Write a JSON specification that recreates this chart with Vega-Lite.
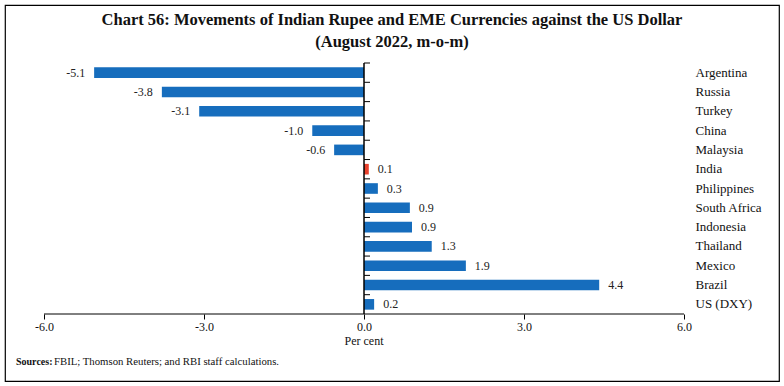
{
  "$schema": "https://vega.github.io/schema/vega-lite/v6.json",
  "width": 774,
  "height": 376,
  "padding": 5,
  "autosize": {"type": "none"},
  "background": "white",
  "config": {
    "view": {"stroke": "#000", "strokeWidth": 1.2},
    "font": "Liberation Serif",
    "locale": {"number": {"decimal": ".", "thousands": ",", "grouping": [3], "currency": ["", ""], "minus": "-"}}
  },
  "title": {
    "text": ["Chart 56: Movements of Indian Rupee and EME Currencies against the US Dollar", "(August 2022, m-o-m)"],
    "anchor": "middle",
    "font": "Liberation Serif",
    "fontSize": 16.5,
    "fontWeight": "bold",
    "color": "#111",
    "lineHeight": 22,
    "offset": -45
  },
  "data": {
    "values": [
      {"country": "Argentina", "val": -5.06},
      {"country": "Russia", "val": -3.79},
      {"country": "Turkey", "val": -3.09},
      {"country": "China", "val": -0.97},
      {"country": "Malaysia", "val": -0.56},
      {"country": "India", "val": 0.09},
      {"country": "Philippines", "val": 0.26},
      {"country": "South Africa", "val": 0.86},
      {"country": "Indonesia", "val": 0.9},
      {"country": "Thailand", "val": 1.27},
      {"country": "Mexico", "val": 1.91},
      {"country": "Brazil", "val": 4.41},
      {"country": "US (DXY)", "val": 0.19}
    ]
  },
  "layer": [
    {
      "mark": {"type": "bar", "height": {"band": 0.55}},
      "encoding": {
        "x": {
          "field": "val",
          "type": "quantitative",
          "scale": {"domain": [-6, 6], "range": [39, 679], "nice": false, "zero": false},
          "axis": {
            "values": [-6, -3, 0, 3, 6],
            "format": ".1f",
            "offset": -67,
            "domain": false,
            "ticks": true,
            "tickSize": 5,
            "tickColor": "#000",
            "grid": false,
            "labelFlush": false,
            "labelFont": "Liberation Serif",
            "labelFontSize": 12,
            "labelColor": "#111",
            "labelPadding": 2,
            "title": null
          }
        },
        "x2": {"datum": 0},
        "y": {
          "field": "country",
          "type": "nominal",
          "sort": null,
          "scale": {"range": [58, 309], "paddingInner": 0, "paddingOuter": 0},
          "axis": {
            "orient": "right",
            "offset": -84,
            "domain": false,
            "ticks": false,
            "tickSize": 0,
            "labelPadding": 0,
            "labelFont": "Liberation Serif",
            "labelFontSize": 13,
            "labelColor": "#111",
            "title": null,
            "grid": false
          }
        },
        "color": {
          "condition": {"test": "datum.country === 'India'", "value": "#e8412c"},
          "value": "#166dbd"
        }
      }
    },
    {
      "mark": {"type": "rect", "fill": null, "stroke": "#000", "strokeWidth": 1},
      "encoding": {
        "x": {"datum": 0},
        "x2": {"datum": 0},
        "y": {"field": "country", "type": "nominal", "sort": null}
      }
    },
    {
      "mark": {"type": "rule", "color": "#000", "strokeWidth": 1},
      "encoding": {
        "x": {"datum": 0},
        "x2": {"datum": 0.1125},
        "y": {"field": "country", "type": "nominal", "sort": null, "bandPosition": 0}
      }
    },
    {
      "transform": [{"filter": "datum.country === 'US (DXY)'"}],
      "mark": {"type": "rule", "color": "#000", "strokeWidth": 1},
      "encoding": {
        "x": {"datum": -6},
        "x2": {"datum": 6},
        "y": {"field": "country", "type": "nominal", "sort": null, "bandPosition": 1}
      }
    },
    {
      "transform": [{"filter": "datum.val < 0"}],
      "mark": {"type": "text", "align": "right", "baseline": "middle", "dx": -9, "font": "Liberation Serif", "fontSize": 12, "color": "#222"},
      "encoding": {
        "x": {"field": "val", "type": "quantitative"},
        "y": {"field": "country", "type": "nominal", "sort": null},
        "text": {"field": "val", "type": "quantitative", "format": ".1f"}
      }
    },
    {
      "transform": [{"filter": "datum.val >= 0"}],
      "mark": {"type": "text", "align": "left", "baseline": "middle", "dx": 9, "font": "Liberation Serif", "fontSize": 12, "color": "#222"},
      "encoding": {
        "x": {"field": "val", "type": "quantitative"},
        "y": {"field": "country", "type": "nominal", "sort": null},
        "text": {"field": "val", "type": "quantitative", "format": ".1f"}
      }
    },
    {
      "transform": [{"filter": "datum.country === 'US (DXY)'"}],
      "mark": {"type": "text", "align": "center", "baseline": "middle", "dy": 37, "font": "Liberation Serif", "fontSize": 12, "color": "#111"},
      "encoding": {
        "x": {"datum": 0},
        "y": {"field": "country", "type": "nominal", "sort": null},
        "text": {"value": "Per cent"}
      }
    },
    {
      "transform": [{"filter": "datum.country === 'US (DXY)'"}],
      "mark": {"type": "text", "align": "left", "baseline": "middle", "dy": 58, "font": "Liberation Serif", "fontSize": 10, "fontWeight": "bold", "color": "#111"},
      "encoding": {
        "x": {"datum": -6.525},
        "y": {"field": "country", "type": "nominal", "sort": null},
        "text": {"value": "Sources:"}
      }
    },
    {
      "transform": [{"filter": "datum.country === 'US (DXY)'"}],
      "mark": {"type": "text", "align": "left", "baseline": "middle", "dy": 58, "dx": 38, "font": "Liberation Serif", "fontSize": 10.75, "color": "#111"},
      "encoding": {
        "x": {"datum": -6.525},
        "y": {"field": "country", "type": "nominal", "sort": null},
        "text": {"value": "FBIL; Thomson Reuters; and RBI staff calculations."}
      }
    }
  ]
}
